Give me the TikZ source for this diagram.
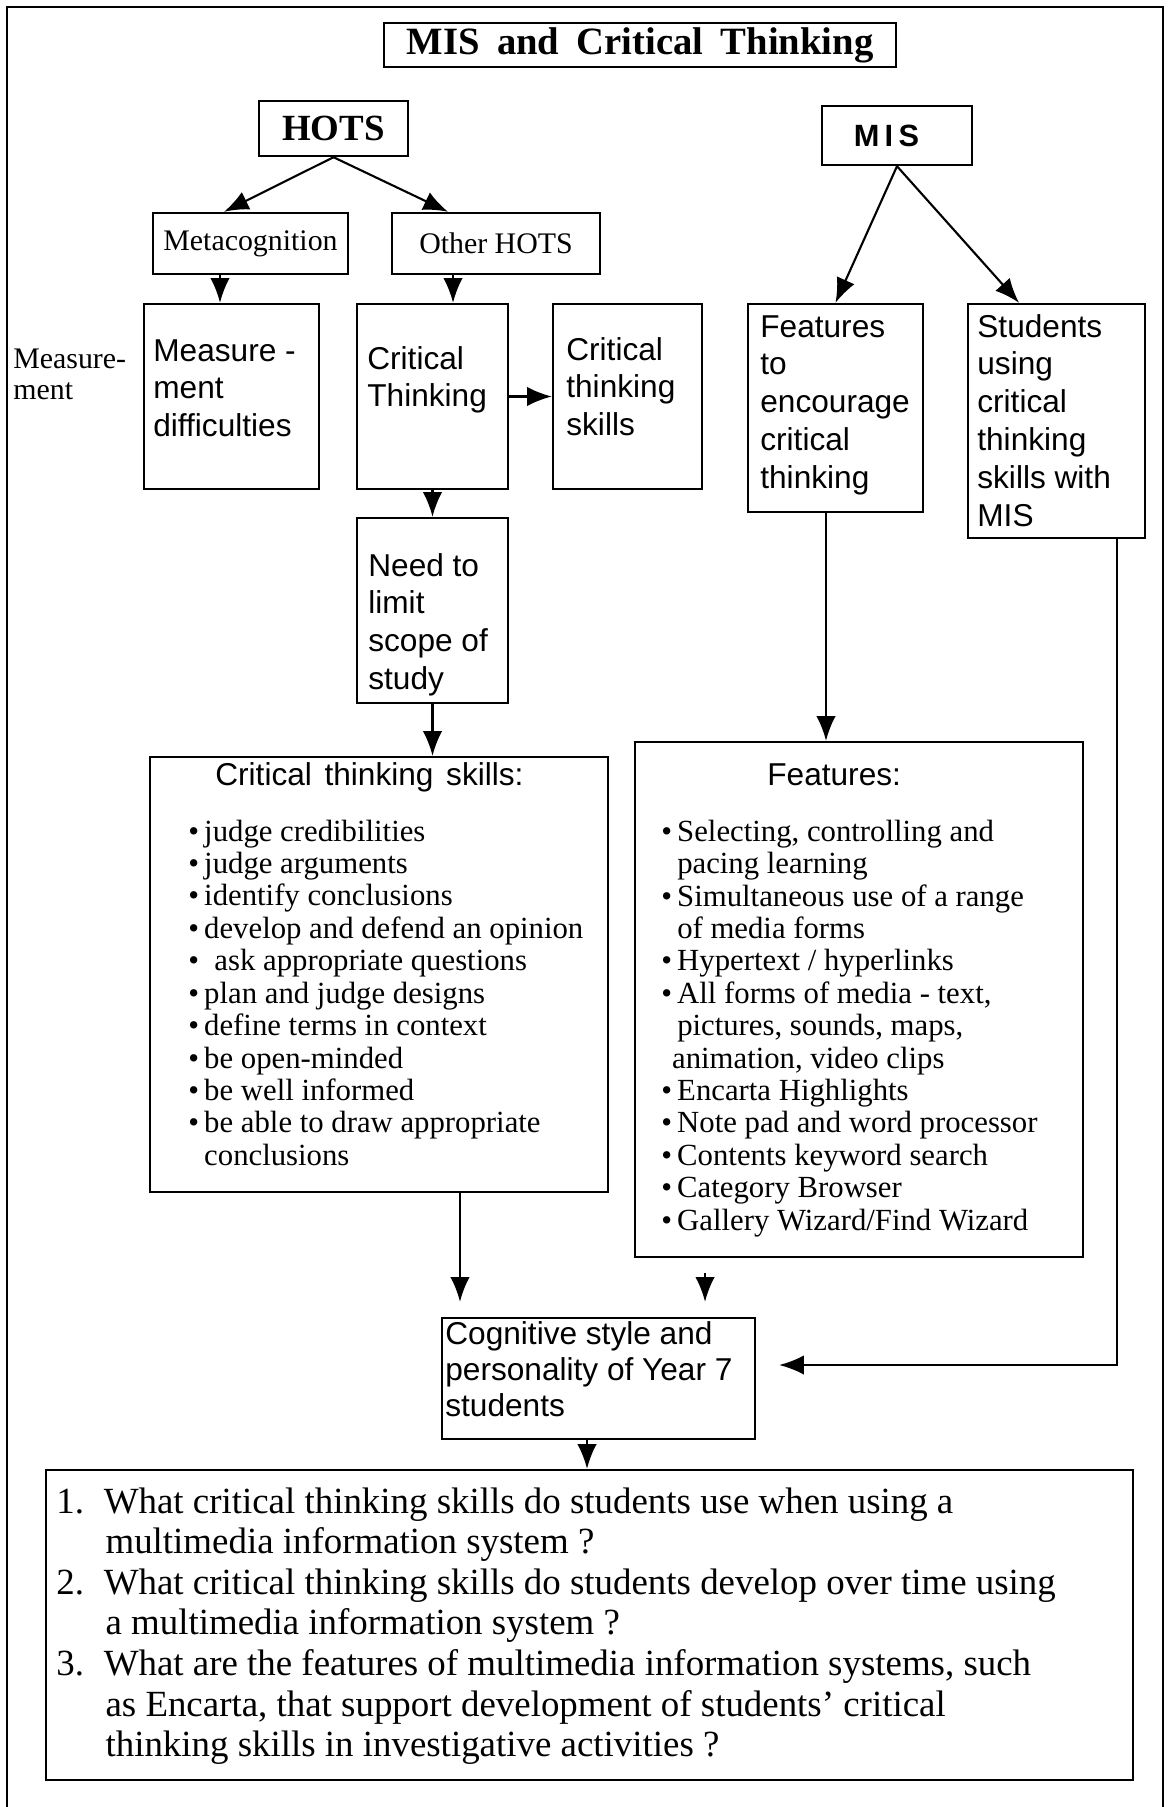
\documentclass[tikz,border=0pt]{standalone}
\usepackage{fontspec}
\setmainfont{Liberation Serif}
\setsansfont{Liberation Sans}
\usetikzlibrary{arrows.meta}

\tikzset{
  box/.style={draw, line width=1.4pt, inner sep=0pt},
  boxtext/.style={inner sep=0pt, anchor=base west, align=left, font=\sffamily\fontsize{18}{21.5}\selectfont},
  listtext/.style={inner sep=0pt, anchor=base west, align=left, font=\fontsize{17.5}{18.45}\selectfont},
  qtext/.style={inner sep=0pt, anchor=base west, align=left, font=\fontsize{21}{23.1}\selectfont},
  arr/.style={line width=1.2pt, -{Latex[length=14pt,width=11pt]}},
}

\begin{document}
\begin{tikzpicture}[x=0.02cm, y=-0.02cm]
	\useasboundingbox (0,0) rectangle (1169,1807);
	\draw [line width=1.2pt] (7,1807) -- (7,7) -- (1163,7) -- (1163,1807);

	\node [box, minimum width=10.24cm, minimum height=0.88cm, font=\bfseries\fontsize{22}{26}\selectfont] (title) at (640,45) {MIS\hspace{0.45em}and\hspace{0.45em}Critical\hspace{0.45em}Thinking};
	\node [box, minimum width=2.98cm, minimum height=1.1cm, font=\bfseries\fontsize{21}{25}\selectfont] (hots) at (333.5,128.5) {HOTS};
	\node [box, minimum width=3cm, minimum height=1.18cm, font=\sffamily\bfseries\fontsize{17.5}{21}\selectfont] (mis) at (897,135.5) {M\kern3pt I\kern3pt S\kern12pt};
	\node [box, minimum width=3.9cm, minimum height=1.22cm, font=\fontsize{17}{20}\selectfont] (meta) at (250.5,243.5) {Metacognition};
	\node [box, minimum width=4.16cm, minimum height=1.22cm, font=\fontsize{17}{20}\selectfont] (other) at (496,243.5) {Other HOTS};

	\node [box, minimum width=3.5cm, minimum height=3.7cm] (meas) at (231.5,396.5) {};
	\node [box, minimum width=3.02cm, minimum height=3.7cm] (ct) at (432.5,396.5) {};
	\node [box, minimum width=2.98cm, minimum height=3.7cm] (cts) at (627.5,396.5) {};
	\node [box, minimum width=3.5cm, minimum height=4.16cm] (feat) at (835.5,408) {};
	\node [box, minimum width=3.54cm, minimum height=4.68cm] (stud) at (1056.5,421) {};
	\node [box, minimum width=3.02cm, minimum height=3.7cm] (need) at (432.5,610.5) {};
	\node [box, minimum width=9.16cm, minimum height=8.7cm] (ctlist) at (379,974.5) {};
	\node [box, minimum width=8.96cm, minimum height=10.3cm] (featlist) at (859,999.5) {};
	\node [box, minimum width=6.26cm, minimum height=2.42cm] (cog) at (598.5,1378.5) {};
	\node [box, minimum width=21.74cm, minimum height=6.2cm] (rq) at (589.5,1625) {};

	% texts are anchored at the baseline of their last line
	\node [listtext, font=\fontsize{17}{17.6}\selectfont] (meas-l) at (13,399) {Measure-\\ment};
	\node [boxtext] (meas-t) at (153,436.6) {Measure -\\ment\\difficulties};
	\node [boxtext] (ct-t) at (367,406.8) {Critical\\Thinking};
	\node [boxtext] (cts-t) at (566,435.6) {Critical\\thinking\\skills};
	\node [boxtext] (feat-t) at (760,488.2) {Features\\to\\encourage\\critical\\thinking};
	\node [boxtext] (stud-t) at (977,526) {Students\\using\\critical\\thinking\\skills with\\MIS};
	\node [boxtext] (need-t) at (368,689.4) {Need to\\limit\\scope of\\study};
	\node [boxtext, font=\sffamily\fontsize{18}{20.7}\selectfont] (cog-t) at (445,1416.8) {Cognitive style and\\personality of Year 7\\students};

	\node [boxtext] (ctlist-h) at (215,785) {Critical\hspace{0.4em}thinking\hspace{0.4em}skills:};
	\node [listtext] (ctlist-t) at (188,1165.3) {\textbullet\,judge credibilities\\
		\textbullet\,judge arguments\\
		\textbullet\,identify conclusions\\
		\textbullet\,develop and defend an opinion\\
		\textbullet\ \ ask appropriate questions\\
		\textbullet\,plan and judge designs\\
		\textbullet\,define terms in context\\
		\textbullet\,be open-minded\\
		\textbullet\,be well informed\\
		\textbullet\,be able to draw appropriate\\
		\hphantom{\textbullet}\,conclusions};
	\node [boxtext] (featlist-h) at (767,785) {Features:};
	\node [listtext] (featlist-t) at (661,1230.2) {\textbullet\,Selecting, controlling and\\
		\hphantom{\textbullet\,}pacing learning\\
		\textbullet\,Simultaneous use of a range\\
		\hphantom{\textbullet\,}of media forms\\
		\textbullet\,Hypertext / hyperlinks\\
		\textbullet\,All forms of media - text,\\
		\hphantom{\textbullet\,}pictures, sounds, maps,\\
		\hphantom{\textbullet}animation, video clips\\
		\textbullet\,Encarta Highlights\\
		\textbullet\,Note pad and word processor\\
		\textbullet\,Contents keyword search\\
		\textbullet\,Category Browser\\
		\textbullet\,Gallery Wizard/Find Wizard};

	\node [qtext] (rq-t) at (56,1756.6) {\makebox[27pt][l]{1.}What critical thinking skills do students use when using a\\
		\hspace*{28pt}multimedia information system ?\\
		\makebox[27pt][l]{2.}What critical thinking skills do students develop over time using\\
		\hspace*{28pt}a multimedia information system ?\\
		\makebox[27pt][l]{3.}What are the features of multimedia information systems, such\\
		\hspace*{28pt}as Encarta, that support development of students' critical\\
		\hspace*{28pt}thinking skills in investigative activities ?};

	\draw [arr] (hots.south) -- ([xshift=-0.53cm]meta.north);
	\draw [arr] (hots.south) -- ([xshift=-0.96cm]other.north);
	\draw [arr] ([xshift=-0.61cm]meta.south) -- ([xshift=-0.61cm]meta.south |- meas.north);
	\draw [arr] ([xshift=-0.86cm]other.south) -- ([xshift=-0.86cm]other.south |- ct.north);
	\draw [arr] (ct.east) -- (ct.east -| cts.west);
	\draw [arr] (ct.south) -- (need.north);
	\draw [arr] (need.south) -- (need.south |- ctlist.north);
	\draw [arr] (mis.south) -- (feat.north);
	\draw [arr] (mis.south) -- ([xshift=-0.75cm]stud.north);
	\draw [arr] ([xshift=-0.19cm]feat.south) -- ([xshift=-0.19cm]feat.south |- featlist.north);
	\draw [arr, shorten >=0.3cm] ([xshift=1.62cm]ctlist.south) -- ([xshift=1.62cm]ctlist.south |- cog.north);
	\draw [arr, shorten <=0.3cm, shorten >=0.3cm] ([xshift=-3.08cm]featlist.south) -- ([xshift=-3.08cm]featlist.south |- cog.north);
	\draw [arr, shorten >=0.46cm] ([xshift=1.21cm]stud.south) |- ([yshift=0.27cm]cog.east);
	\draw [arr] ([xshift=-0.23cm]cog.south) -- ([xshift=-0.23cm]cog.south |- rq.north);
\end{tikzpicture}
\end{document}
